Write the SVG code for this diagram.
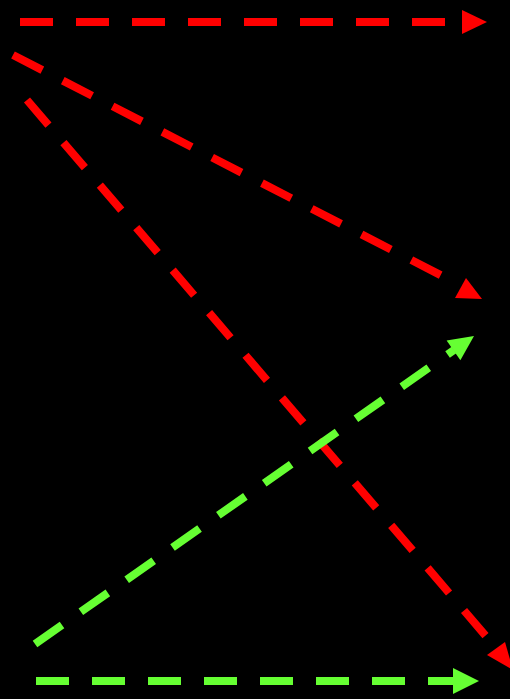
<svg xmlns="http://www.w3.org/2000/svg" width="510" height="699" viewBox="0 0 510 699">
<style>
.red{stroke:#ff0000;fill:none;stroke-width:8;stroke-dasharray:33 23}
.grn{stroke:#66ff33;fill:none;stroke-width:8;stroke-dasharray:33 23}
.rh{fill:#ff0000}
.gh{fill:#66ff33}
</style>
<rect width="510" height="699" fill="#000"/>
<g id="connectors">
<g id="red-top">
<line class="red" x1="20" y1="22" x2="462" y2="22"/>
<polygon class="rh" points="462,10 487,22 462,34"/>
</g>
<g id="red-diag-1">
<line class="red" x1="13" y1="55" x2="452" y2="281"/>
<polygon class="rh" points="466,278 482,299 455,298"/>
</g>
<g id="red-diag-2">
<line class="red" x1="27" y1="100" x2="497" y2="649"/>
<polygon class="rh" points="505,642 513,670 487,655"/>
</g>
<g id="green-diag">
<line class="grn" x1="35" y1="644" x2="454" y2="350"/>
<polygon class="gh" points="474,336 460.4,360.2 446.6,340.6"/>
</g>
<g id="green-bottom">
<line class="grn" x1="36" y1="681" x2="455" y2="681"/>
<polygon class="gh" points="453,668 479,681 453,694"/>
</g>
</g>
</svg>
